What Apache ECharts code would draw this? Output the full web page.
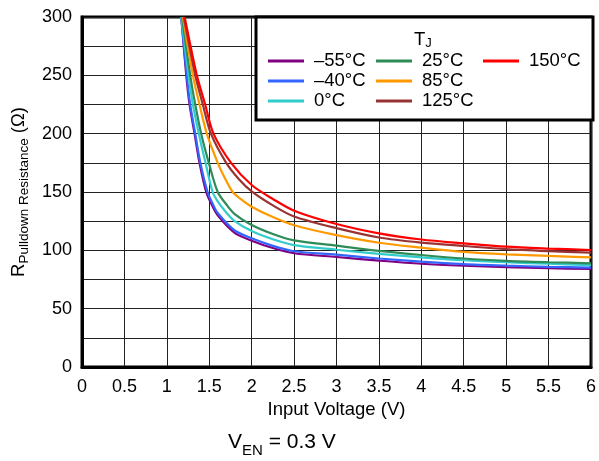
<!DOCTYPE html>
<html>
<head>
<meta charset="utf-8">
<script src="https://cdn.jsdelivr.net/npm/echarts@6/dist/echarts.min.js"></script>
<style>
html,body{margin:0;padding:0;background:#fff;}
#chart{width:599px;height:461px;}
</style>
</head>
<body>
<div id="chart"></div>
<script>
// Series labels
const seriesNames = ['–55°C', '–40°C', '0°C', '25°C', '85°C', '125°C', '150°C'];
const seriesColors = ['#800080', '#3366ff', '#33cccc', '#2e8b57', '#ff9900', '#993333', '#ff0000'];

// Input voltage (V) and pulldown resistance (Ω) per junction temperature
const vNeg55 = [1.17, 1.229, 1.268, 1.327, 1.385, 1.464, 1.53, 1.6, 1.8, 2.0, 2.25, 2.5, 3.0, 3.5, 4.0, 4.5, 5.0, 5.5, 6.0];
const rNeg55 = [300, 250, 225, 200, 175, 150, 139, 130, 115, 108.3, 102, 97.5, 94.3, 91.2, 88.5, 86.8, 85.6, 84.7, 84];

const vNeg40 = [1.17, 1.235, 1.275, 1.335, 1.395, 1.48, 1.54, 1.6, 1.8, 2.0, 2.25, 2.5, 3.0, 3.5, 4.0, 4.5, 5.0, 5.5, 6.0];
const rNeg40 = [300, 250, 225, 200, 175, 150, 140, 132, 117, 110.3, 103.8, 99.2, 96.3, 93, 90.3, 88.2, 86.9, 85.9, 85.1];

const v0 = [1.17, 1.256, 1.307, 1.377, 1.456, 1.54, 1.6, 1.7, 1.8, 2.0, 2.25, 2.5, 3.0, 3.5, 4.0, 4.5, 5.0, 5.5, 6.0];
const r0 = [300, 250, 225, 200, 175, 150, 142, 132.5, 125, 116.5, 109.5, 104.5, 100.5, 97, 94, 91.5, 89.8, 88.5, 87.4];

const v25 = [1.18, 1.276, 1.335, 1.405, 1.495, 1.6, 1.7, 1.8, 2.0, 2.25, 2.5, 3.0, 3.5, 4.0, 4.5, 5.0, 5.5, 6.0];
const r25 = [300, 250, 225, 200, 175, 150, 139.5, 131, 121.7, 114, 108.5, 104, 99.5, 96, 93, 91, 89.8, 88.9];

const v85 = [1.19, 1.307, 1.385, 1.471, 1.6, 1.68, 1.776, 1.88, 2.0, 2.25, 2.5, 3.0, 3.5, 4.0, 4.5, 5.0, 5.5, 6.0];
const r85 = [300, 250, 225, 200, 175, 162.5, 150, 143.5, 137.4, 128.5, 121.5, 113, 106.5, 102.3, 98.7, 96.6, 95.2, 94];

const v125 = [1.2, 1.335, 1.424, 1.52, 1.7, 1.85, 2.0, 2.25, 2.5, 3.0, 3.5, 4.0, 4.5, 5.0, 5.5, 6.0];
const r125 = [300, 250, 225, 200, 175, 161, 150.5, 138.5, 129, 119, 111, 106.6, 103.7, 101, 99.3, 98];

const v150 = [1.21, 1.354, 1.452, 1.55, 1.757, 2.0, 2.25, 2.5, 3.0, 3.5, 4.0, 4.5, 5.0, 5.5, 6.0];
const r150 = [300, 250, 225, 200, 175, 156, 144, 134, 122.6, 114.6, 109.3, 106, 103.1, 101.5, 100.3];

const xVals = [vNeg55, vNeg40, v0, v25, v85, v125, v150];
const yVals = [rNeg55, rNeg40, r0, r25, r85, r125, r150];

// Axis ticks
const xMin = 0, xMax = 6, xStep = 0.5;
const yMin = 0, yMax = 300, yStep = 25, yLabelStep = 50;

const FONT = 'Liberation Sans, Arial, Helvetica, sans-serif';

const chart = echarts.init(document.getElementById('chart'), null, {renderer: 'canvas'});

const series = seriesNames.map((name, i) => ({
  name: name,
  type: 'line',
  data: xVals[i].map((v, j) => [v, yVals[i][j]]),
  smooth: 0.3,
  showSymbol: false,
  clip: true,
  lineStyle: {color: seriesColors[i], width: 2.2},
  itemStyle: {color: seriesColors[i]},
  z: 2
}));

function legendCol(names, left) {
  return {
    data: names,
    orient: 'vertical',
    left: left,
    top: 51,
    padding: 0,
    itemWidth: 36,
    itemHeight: 3,
    itemGap: 0,
    icon: 'rect',
    selectedMode: false,
    z: 10,
    textStyle: {fontFamily: FONT, fontSize: 18.5, color: '#000', lineHeight: 20, padding: [0, 0, 0, 5]}
  };
}

const option = {
  animation: false,
  backgroundColor: '#fff',
  grid: {
    left: 82, top: 17, right: 6, bottom: 94,
    show: true, borderColor: '#000', borderWidth: 3, backgroundColor: 'transparent'
  },
  xAxis: {
    type: 'value', min: xMin, max: xMax, interval: xStep,
    name: 'Input Voltage (V)', nameLocation: 'middle', nameGap: 33,
    nameTextStyle: {fontFamily: FONT, fontSize: 18.5, color: '#000'},
    axisLine: {show: true, lineStyle: {color: '#000', width: 3}},
    axisTick: {show: false},
    axisLabel: {fontFamily: FONT, fontSize: 18, color: '#000', margin: 11},
    splitLine: {show: true, lineStyle: {color: '#222', width: 1}}
  },
  yAxis: {
    type: 'value', min: yMin, max: yMax, interval: yStep,
    name: '{r|R}{s|Pulldown Resistance}{r| (Ω)}', nameLocation: 'middle', nameGap: 51,
    nameRotate: 90,
    nameTextStyle: {
      fontFamily: FONT, color: '#000',
      rich: {
        r: {fontFamily: FONT, fontSize: 18.5, color: '#000', lineHeight: 22, verticalAlign: 'top'},
        s: {fontFamily: FONT, fontSize: 13.5, color: '#000', lineHeight: 22, verticalAlign: 'bottom'}
      }
    },
    axisLine: {show: true, lineStyle: {color: '#000', width: 3}},
    axisTick: {show: false},
    axisLabel: {
      fontFamily: FONT, fontSize: 18, color: '#000', margin: 10,
      formatter: v => (v % yLabelStep === 0 ? String(v) : '')
    },
    splitLine: {show: true, lineStyle: {color: '#222', width: 1}}
  },
  legend: [
    legendCol(seriesNames.slice(0, 3), 268),
    legendCol(seriesNames.slice(3, 6), 376),
    legendCol(seriesNames.slice(6, 7), 483)
  ],
  title: {
    text: '{a|V}{b|EN}{a| = 0.3 V}',
    left: 228, top: 432,
    padding: 0,
    textStyle: {
      fontWeight: 'normal',
      rich: {
        a: {fontFamily: FONT, fontSize: 21, fontWeight: 'normal', color: '#000', lineHeight: 26, verticalAlign: 'top'},
        b: {fontFamily: FONT, fontSize: 15, fontWeight: 'normal', color: '#000', lineHeight: 26, verticalAlign: 'bottom'}
      }
    }
  },
  graphic: [
    {
      type: 'rect', z: 8,
      shape: {x: 256, y: 17, width: 337, height: 103},
      style: {fill: '#fff', stroke: '#000', lineWidth: 3}
    },
    {
      type: 'text', z: 9, left: 414, top: 30,
      style: {
        text: '{t|T}{j|J}',
        rich: {
          t: {fontFamily: FONT, fontSize: 18.5, fill: '#000', lineHeight: 20, verticalAlign: 'top'},
          j: {fontFamily: FONT, fontSize: 13, fill: '#000', lineHeight: 20, verticalAlign: 'bottom'}
        }
      }
    }
  ],
  series: series
};

chart.setOption(option);
</script>
</body>
</html>
